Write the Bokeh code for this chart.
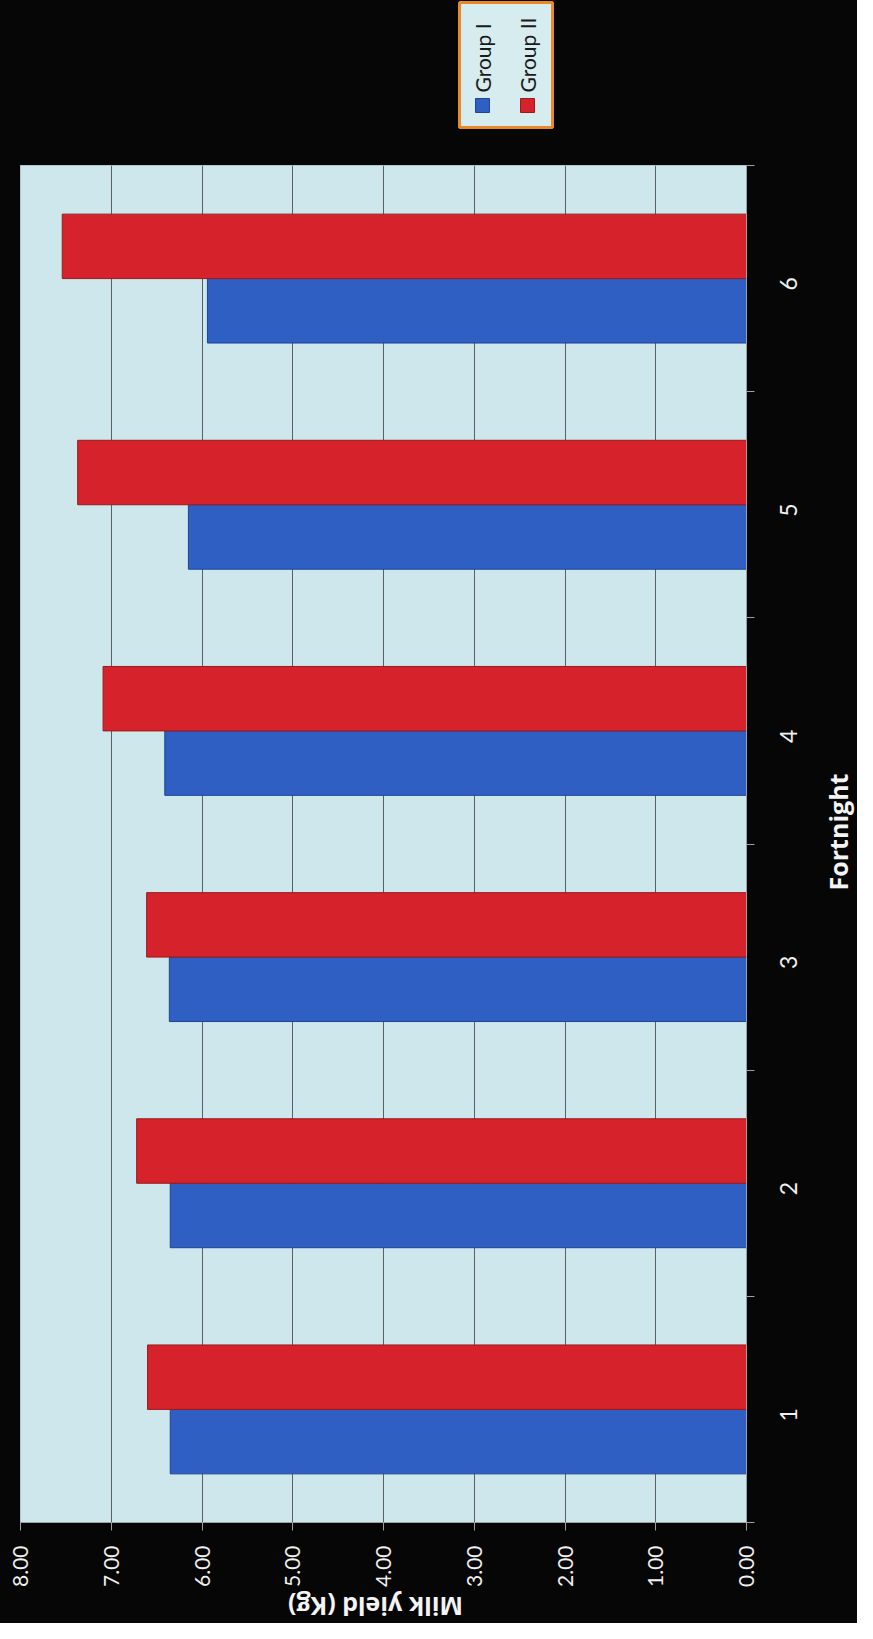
import math
from bokeh.plotting import figure
from bokeh.layouts import column, row
from bokeh.models import Range1d, FixedTicker, NumeralTickFormatter, ColumnDataSource
from bokeh.transform import dodge
from bokeh.core.properties import value
from bokeh.embed import file_html
from bokeh.resources import INLINE

# ---- data ----
fortnights = [1, 2, 3, 4, 5, 6]
group_i = [6.35, 6.35, 6.36, 6.41, 6.15, 5.94]
group_ii = [6.60, 6.72, 6.61, 7.09, 7.37, 7.54]
value_ticks = [0, 1, 2, 3, 4, 5, 6, 7, 8]
series_names = ["Group I", "Group II"]
x_title = "Milk yield (Kg)"
y_title = "Fortnight"

# ---- styling ----
BLUE = "#2f5fc3"
BLUE_EDGE = "#1d4594"
RED = "#d6222a"
RED_EDGE = "#9a1a1c"
FRAME_BG = "#cde7ec"
BLACK = "#060606"
FONT = "Lato"
TITLE_FONT = "Open Sans"

W = 857
BL = 20            # left border of the plot frame
FW = 726           # frame width
FH = 1358          # frame height
TOP_H = 160        # legend strip
P_TOP, P_BOT = 5, 66
P_W = 818          # main figure width (frame + category labels)
R_W = W - P_W      # strip holding the category-axis title
B_H = 100 - P_BOT  # strip holding the value-axis title
P_H = P_TOP + FH + P_BOT


def blank(fig):
    fig.background_fill_color = None
    fig.border_fill_color = None
    fig.outline_line_color = None
    fig.grid.visible = False
    return fig


# ---- legend strip (rotated entries) ----
leg = blank(figure(width=W, height=TOP_H, x_range=Range1d(BL, BL + FW), y_range=Range1d(0, TOP_H),
                   output_backend="svg", toolbar_location=None,
                   min_border_left=BL, min_border_right=W - BL - FW,
                   min_border_top=0, min_border_bottom=0,
                   x_axis_location=None, y_axis_location=None))
leg.quad(left=459, right=552, top=158, bottom=33, fill_color="#d7ecef",
         line_color="#e8892c", line_width=3)
leg_src = ColumnDataSource(dict(name=series_names, x=[482, 527], color=[BLUE, RED],
                                edge=[BLUE_EDGE, RED_EDGE]))
leg.scatter(x="x", y=55, marker="square", size=14, fill_color="color", line_color="edge",
            source=leg_src)
leg.text(x="x", y=68, text="name", angle=math.pi / 2, text_align="left",
         text_baseline="middle", text_font=value(FONT), text_font_size="21px",
         text_color="#1a1a1a", source=leg_src)

# ---- main chart ----
p = figure(width=P_W, height=P_H, x_range=Range1d(8, 0), y_range=Range1d(0.5, 6.5),
           output_backend="svg", toolbar_location=None,
           x_axis_location="below", y_axis_location="right",
           min_border_left=BL, min_border_right=P_W - BL - FW,
           min_border_top=P_TOP, min_border_bottom=P_BOT)
p.background_fill_color = FRAME_BG
p.border_fill_color = BLACK
p.outline_line_color = "#b5c6ca"
p.outline_line_width = 1

src = ColumnDataSource(dict(fortnight=fortnights, group_i=group_i, group_ii=group_ii))
p.hbar(y=dodge("fortnight", -0.1425, range=p.y_range), left=0, right="group_i", height=0.285,
       fill_color=BLUE, line_color=BLUE_EDGE, line_width=1, source=src)
p.hbar(y=dodge("fortnight", 0.1425, range=p.y_range), left=0, right="group_ii", height=0.285,
       fill_color=RED, line_color=RED_EDGE, line_width=1, source=src)

# value axis (bottom)
xa = p.xaxis[0]
xa.ticker = FixedTicker(ticks=value_ticks)
xa.formatter = NumeralTickFormatter(format="0.00")
xa.major_label_orientation = math.pi / 2
xa.major_label_text_font = FONT
xa.major_label_text_font_size = "21px"
xa.major_label_text_color = "#f0f0f0"
xa.major_label_standoff = 15
xa.major_tick_in = 0
xa.major_tick_out = 8
xa.major_tick_line_color = "#a0a0a0"
xa.minor_tick_line_color = None
xa.axis_line_color = "#a0a0a0"

# category axis (right): boundary ticks, labels nudged so each digit sits centred
LABEL_NUDGE = 0.053
label_pos = [f - LABEL_NUDGE for f in fortnights]
ya = p.yaxis[0]
ya.ticker = FixedTicker(ticks=label_pos,
                        minor_ticks=[f - 0.5 for f in fortnights] + [fortnights[-1] + 0.5])
ya.major_label_overrides = {pos: str(f) for pos, f in zip(label_pos, fortnights)}
ya.major_tick_line_color = None
ya.minor_tick_in = 0
ya.minor_tick_out = 8
ya.minor_tick_line_color = "#a0a0a0"
ya.major_label_orientation = math.pi / 2
ya.major_label_text_font = FONT
ya.major_label_text_font_size = "23px"
ya.major_label_text_color = "#f0f0f0"
ya.major_label_standoff = 34
ya.axis_line_color = "#a0a0a0"

p.ygrid.visible = False
p.xgrid.grid_line_color = "#5a5f60"
p.xgrid.grid_line_width = 1

# ---- strip right of the chart: category-axis title ----
rs = blank(figure(width=R_W, height=P_H, x_range=Range1d(0, R_W), y_range=Range1d(0, FH),
                  output_backend="svg", toolbar_location=None,
                  min_border_left=0, min_border_right=0,
                  min_border_top=P_TOP, min_border_bottom=P_BOT,
                  x_axis_location=None, y_axis_location=None))
rs.text(x=[R_W / 2], y=[691], text=[y_title], angle=math.pi / 2, text_align="center",
        text_baseline="middle", text_font=value(TITLE_FONT), text_font_style="bold",
        text_font_size="25px", text_color="#f4f4f4")

# ---- strip below: value-axis title (upside down, as in the reference) ----
bs = blank(figure(width=W, height=B_H, x_range=Range1d(BL, BL + FW), y_range=Range1d(0, B_H),
                  output_backend="svg", toolbar_location=None,
                  min_border_left=BL, min_border_right=W - BL - FW,
                  min_border_top=0, min_border_bottom=0,
                  x_axis_location=None, y_axis_location=None))
bs.text(x=[375], y=[B_H / 2], text=[x_title], angle=math.pi, text_align="center",
        text_baseline="middle", text_font=value(TITLE_FONT), text_font_style="bold",
        text_font_size="25px", text_color="#f4f4f4")

layout = column(leg, row(p, rs, spacing=0), bs, spacing=0)
layout.styles = {"background-color": BLACK}
open("out.html", "w").write(file_html(layout, INLINE))
